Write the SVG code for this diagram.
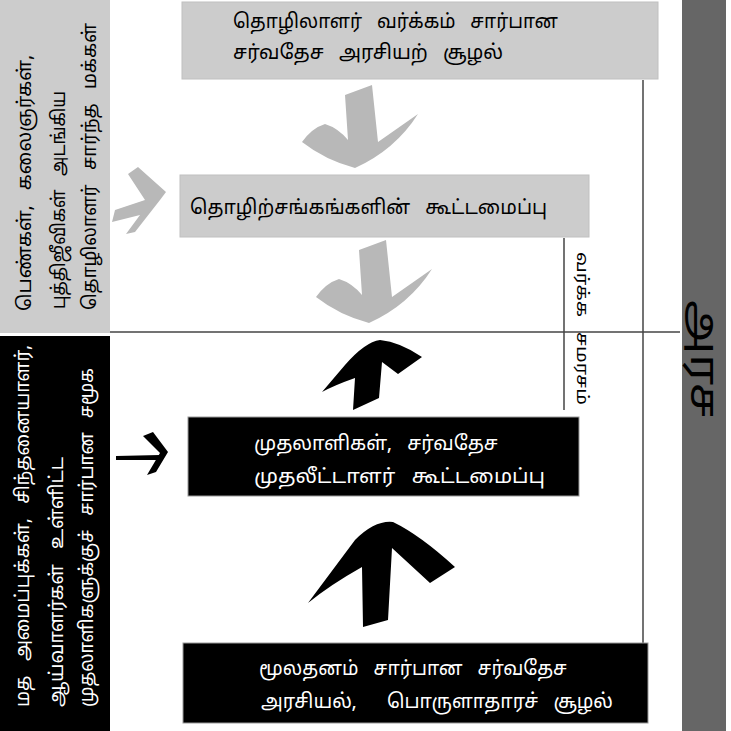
<svg xmlns="http://www.w3.org/2000/svg" width="731" height="731" viewBox="0 0 731 731">
<style>
text{font-family:"Noto Sans Tamil","Lohit Tamil","Noto Sans",sans-serif;white-space:pre;}
.t{font-size:20px;fill:#000;}
.w{font-size:20px;fill:#fff;}
.side{font-size:19px;}
.gbox{fill:#cccccc;stroke:#c0c0c0;stroke-width:1;}
.bbox{fill:#000;stroke:#999;stroke-width:1;}
.garrow{fill:#b8b8b8;}
.barrow{fill:#000;}
.ln{stroke:#444;stroke-width:1.5;fill:none;}
</style>
<defs>
<path id="gdown" d="M345,95 L372,85 L378,142 L418,114 Q395,150 355,168 Q325,160 302,142 Q312,128 325,124 Q338,128 348,140 Z"/>
</defs>
<rect width="731" height="731" fill="#fff"/>

<g id="left-top-panel">
<rect x="0" y="0" width="110" height="333" fill="#cccccc"/>
<text class="t side" xml:space="preserve" transform="translate(31,311) rotate(-90)" textLength="256" lengthAdjust="spacingAndGlyphs">பெண்கள்,   கலைஞர்கள்,</text>
<text class="t side" xml:space="preserve" transform="translate(65,309) rotate(-90)" textLength="218" lengthAdjust="spacingAndGlyphs">புத்திஜீவிகள்   அடங்கிய</text>
<text class="t side" xml:space="preserve" transform="translate(96,310) rotate(-90)" textLength="287" lengthAdjust="spacingAndGlyphs">தொழிலாளர்   சார்ந்த   மக்கள்</text>
</g>

<g id="left-bottom-panel">
<rect x="0" y="336" width="110" height="395" fill="#000"/>
<text class="w side" xml:space="preserve" transform="translate(29,707) rotate(-90)" textLength="362" lengthAdjust="spacingAndGlyphs">மத   அமைப்புக்கள்,   சிந்தனையாளர்,</text>
<text class="w side" xml:space="preserve" transform="translate(63,707) rotate(-90)" textLength="250" lengthAdjust="spacingAndGlyphs">ஆய்வாளர்கள்   உள்ளிட்ட</text>
<text class="w side" xml:space="preserve" transform="translate(93,707) rotate(-90)" textLength="339" lengthAdjust="spacingAndGlyphs">முதலாளிகளுக்குச்   சார்பான   சமூக</text>
</g>

<g id="state-bar">
<rect x="682" y="0" width="44" height="731" fill="#666666"/>
<text transform="translate(691,300) rotate(90)" font-size="40" fill="#000" textLength="118" lengthAdjust="spacingAndGlyphs">அரச</text>
</g>

<g id="connectors">
<line class="ln" x1="110" y1="332" x2="680" y2="332"/>
<line class="ln" x1="643" y1="80" x2="643" y2="643"/>
<line class="ln" x1="564" y1="238" x2="564" y2="410"/>
<use href="#gdown" class="garrow"/>
<use href="#gdown" class="garrow" transform="translate(14,155)"/>
<polygon class="garrow" points="128,174 138,167 166,192 160,200 135,232 126,234 140,215 112,222 115,210 145,200"/>
<path class="barrow" d="M353,410 L355,378 Q335,385 322,392 L345,365 Q365,342 380,340 Q400,342 422,357 L398,374 L382,362 L379,398 Z"/>
<path class="barrow" d="M363,627 L362,567 Q330,585 308,603 L355,540 Q375,520 393,522 Q420,535 455,567 L430,583 L392,548 L388,620 Z"/>
<polygon class="barrow" points="116,456 160,455 160,460 116,460"/>
<polygon class="barrow" points="143,436 153,432 168,452 156,472 147,475 160,453"/>
</g>

<g id="class-compromise-label">
<text transform="translate(577,252) rotate(90)" font-size="16" fill="#000" textLength="65" lengthAdjust="spacingAndGlyphs">வர்க்க</text>
<text transform="translate(577,332) rotate(90)" font-size="16" fill="#000" textLength="73" lengthAdjust="spacingAndGlyphs">சமரசம்</text>
</g>

<g id="node-workers-env">
<rect class="gbox" x="182" y="2" width="476" height="77"/>
<text class="t" xml:space="preserve" x="233" y="28" textLength="325" lengthAdjust="spacingAndGlyphs">தொழிலாளர்   வர்க்கம்   சார்பான</text>
<text class="t" xml:space="preserve" x="233" y="59" textLength="270" lengthAdjust="spacingAndGlyphs">சர்வதேச   அரசியற்   சூழல்</text>
</g>

<g id="node-unions">
<rect class="gbox" x="180" y="175" width="409" height="62"/>
<text class="t" xml:space="preserve" x="190" y="214" textLength="357" lengthAdjust="spacingAndGlyphs">தொழிற்சங்கங்களின்   கூட்டமைப்பு</text>
</g>

<g id="node-capitalists">
<rect class="bbox" x="188" y="417" width="391" height="79"/>
<text class="w" xml:space="preserve" x="254" y="450" textLength="244" lengthAdjust="spacingAndGlyphs">முதலாளிகள்,   சர்வதேச</text>
<text class="w" xml:space="preserve" x="254" y="483" textLength="291" lengthAdjust="spacingAndGlyphs">முதலீட்டாளர்   கூட்டமைப்பு</text>
</g>

<g id="node-capital-env">
<rect class="bbox" x="183" y="643" width="465" height="80"/>
<text class="w" xml:space="preserve" x="259" y="675" textLength="308" lengthAdjust="spacingAndGlyphs">மூலதனம்   சார்பான   சர்வதேச</text>
<text class="w" xml:space="preserve" x="261" y="708" textLength="352" lengthAdjust="spacingAndGlyphs">அரசியல்,      பொருளாதாரச்   சூழல்</text>
</g>
</svg>
